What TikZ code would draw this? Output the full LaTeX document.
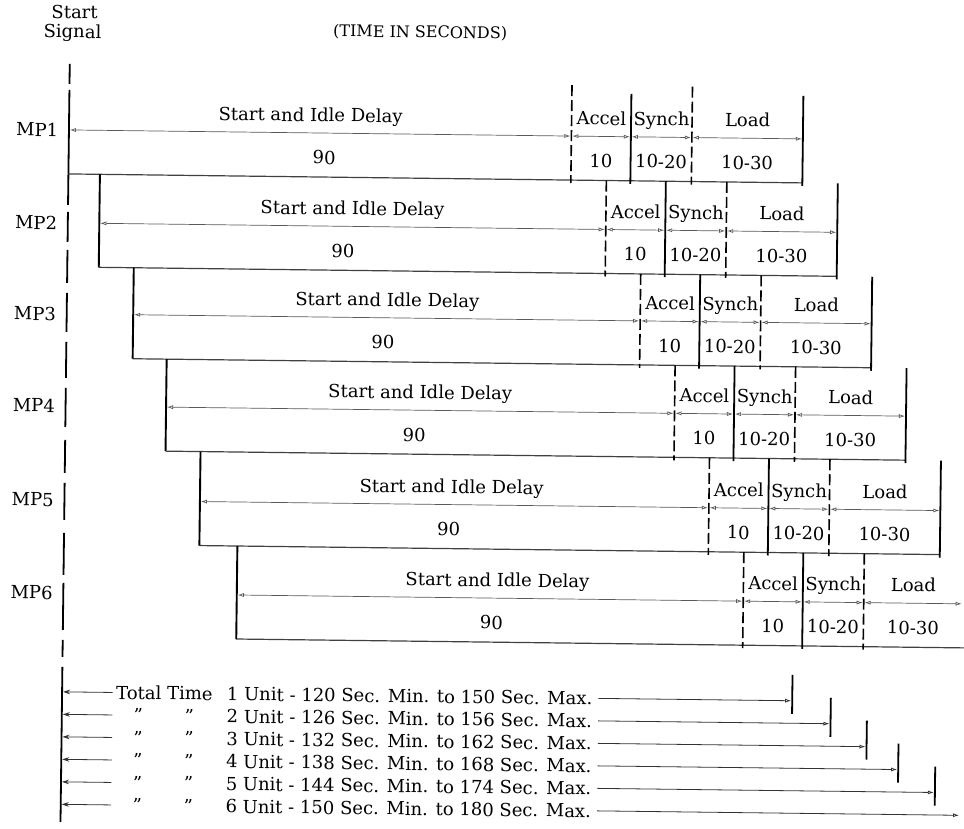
\documentclass[tikz,border=0pt]{standalone}
\usepackage{fontspec}
\setmainfont{DejaVu Serif}
\usetikzlibrary{arrows.meta}
\newcommand\tfont{\fontsize{18}{21}\selectfont}
\begin{document}
\begin{tikzpicture}[x=1pt,y=-1pt,
  lbl/.style={inner sep=0pt, anchor=base, font=\tfont},
  btxt/.style={inner sep=0pt, anchor=base, font=\tfont},
  startl/.style={line width=1.8pt, black},
  leftv/.style={line width=1.9pt, black},
  solidv/.style={line width=1.8pt, black},
  dashv/.style={line width=1.6pt, black, dash pattern=on 11pt off 4pt},
  bline/.style={line width=1.2pt, black!75},
  dim/.style={line width=0.7pt, black!65, shorten <=1pt, shorten >=1pt,
    {Latex[open,length=6pt,width=4pt]}-{Latex[open,length=6pt,width=4pt]}},
  larrow/.style={line width=0.8pt, black!80, shorten >=1pt, -{Stealth[length=7pt,width=4.5pt]}},
  rarrow/.style={line width=0.8pt, black!80, shorten >=1pt, -{Latex[open,length=6pt,width=4pt]}}
]
\useasboundingbox (0,0) rectangle (964,829);
\fill[white] (0,0) rectangle (964,829);
\begin{scope}[rotate around={-0.7:(482,414)}, transform shape]
% header
\node[lbl] (st) at (69.7,23.5) {Start};
\node[lbl] (sg) at (67.9,43) {Signal};
\node[lbl, anchor=base west, font=\fontsize{16}{19}\selectfont] (tis) at (328.4,38.5) {(TIME IN SECONDS)};
% start signal line
\foreach \p/\q in {69/89, 95/210, 217/247, 255/288, 298/337, 347/383, 393/432, 445/478, 488/525, 538/580, 588/635, 645/662, 672/827}
  \draw[startl] (65.5,\p) -- (65.5,\q);
% rows
\foreach \i/\ya/\yb/\xo/\xa/\lx/\nx/\yt/\ys in {
  1/135/179/65.5/568/307/321/84/92,
  2/228/272/97/603.5/350/341/179/179,
  3/319/363/132/639/386/382/272/272,
  4/411/455/166/674.5/420/414.5/363/363,
  5/505/549/201/710/452.5/450/455/455,
  6/598/642/239/745.5/499.5/494/549/549}{
  \pgfmathsetmacro\xs{\xa+59.5}
  \pgfmathsetmacro\xl{\xs+61}
  \pgfmathsetmacro\xe{min(\xl+111,965)}
  \pgfmathsetmacro\xb{\i<6 ? \xe : 985}
  \coordinate (o\i) at (\xo,\ya);
  \coordinate (a\i) at (\xa,\ya);
  \coordinate (s\i) at (\xs,\ya);
  \coordinate (l\i) at (\xl,\ya);
  \coordinate (e\i) at (\xe,\ya);
  \draw[bline] (\xo,\yb) -- (\xb,\yb);
  \ifnum\i>1 \draw[leftv] (\xo,\yt) -- (\xo,\yb); \fi
  \draw[dashv] (\xa,\yt) -- (\xa,{\yb+3});
  \draw[solidv] (\xs,\ys) -- (\xs,{\yb+3});
  \draw[dashv] (\xl,\yt) -- (\xl,{\yb+3});
  \ifnum\i<6 \draw[solidv] (\xe,\ys) -- (\xe,{\yb+3}); \fi
  \draw[dim] (o\i) -- (a\i);
  \draw[dim] (a\i) -- (s\i);
  \draw[dim] (s\i) -- (l\i);
  \draw[dim] (l\i) -- (e\i);
  \node[lbl] (sd\i) at (\lx,{\ya-11.5}) {Start and Idle Delay};
  \node[lbl] (nn\i) at (\nx,{\ya+31}) {90};
  \node[lbl] (ac\i) at ({(\xa+\xs)/2},{\ya-11.5}) {Accel};
  \node[lbl] (sy\i) at ({(\xs+\xl)/2},{\ya-11.5}) {Synch};
  \node[lbl] (ld\i) at ({(\xl+\xe)/2},{\ya-11.5}) {Load};
  \node[lbl] (ta\i) at ({(\xa+\xs)/2},{\ya+31}) {10};
  \node[lbl] (tb\i) at ({(\xs+\xl)/2},{\ya+31}) {10-20};
  \node[lbl] (tc\i) at ({(\xl+\xe)/2},{\ya+31}) {10-30};
  \node[lbl, anchor=base east] (mp\i) at (55,{\ya+6.5}) {MP\i};
}
% totals
\foreach \k/\mn/\mx/\bx in {1/120/150/795.7, 2/126/156/834.3, 3/132/162/870.6, 4/138/168/902.5, 5/144/174/939.5, 6/150/180/965}{
  \pgfmathsetmacro\yy{697+22.5*(\k-1)}
  \coordinate (la\k) at (116,\yy);
  \coordinate (lb\k) at (65.5,\yy);
  \coordinate (ra\k) at (602,\yy);
  \coordinate (rb\k) at (\bx,\yy);
  \draw[larrow] (la\k) -- (lb\k);
  \draw[rarrow] (ra\k) -- (rb\k);
  \ifnum\k<6 \draw[solidv] (\bx,{\yy-26}) -- (\bx,{\yy+13}); \fi
  \node[btxt, anchor=base east] (ut\k) at (596,{\yy+6.5}) {\k\ Unit - \mn\ Sec. Min. to \mx\ Sec. Max.};
  \ifnum\k>1
    \node[btxt] (da\k) at (142,{\yy+6.5}) {"};
    \node[btxt] (db\k) at (193,{\yy+6.5}) {"};
  \fi
}
\node[btxt, anchor=base west] (tt) at (119.5,703.5) {Total Time};
\end{scope}
\end{tikzpicture}
\end{document}
